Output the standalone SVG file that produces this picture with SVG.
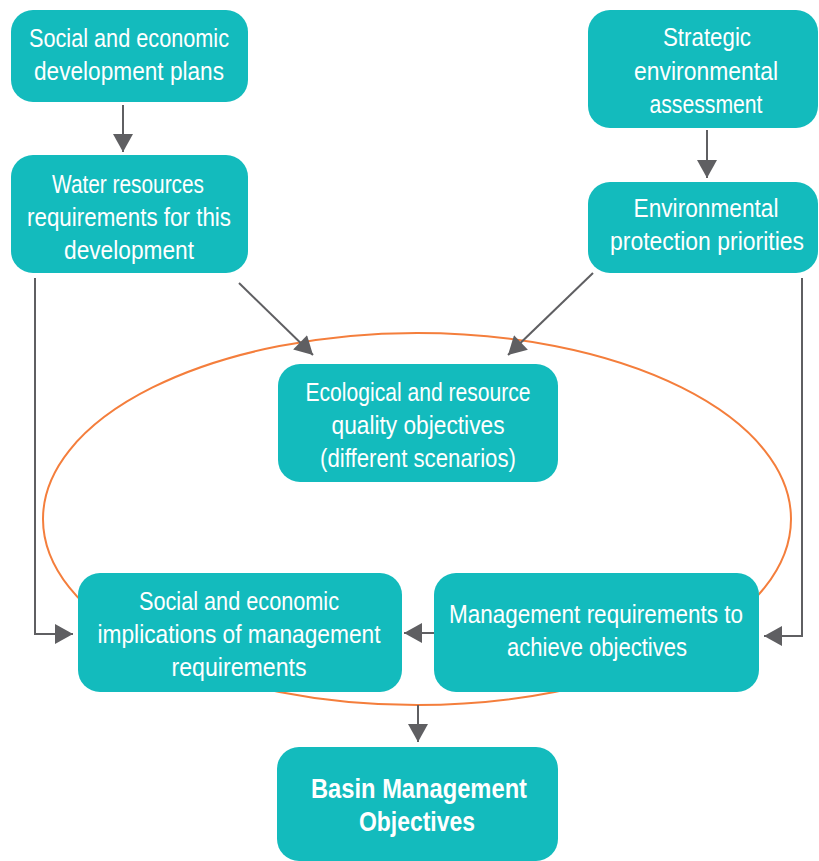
<svg xmlns="http://www.w3.org/2000/svg" width="819" height="861" viewBox="0 0 819 861">
<defs>
<style>
.box{fill:#13BBBD;}
.t{font-family:"Liberation Sans","Arial",sans-serif;font-size:26px;fill:#ffffff;text-anchor:middle;}
.b{font-weight:bold;font-size:28px;}
.c{fill:none;stroke:#5F5F62;stroke-width:2;}
</style>
<marker id="ah" markerUnits="userSpaceOnUse" markerWidth="20" markerHeight="20" viewBox="0 0 18 20" refX="18" refY="10" orient="auto">
<path d="M0,0 L18,10 L0,20 Z" fill="#5F5F62"/>
</marker>
</defs>
<rect width="819" height="861" fill="#ffffff"/>
<ellipse cx="417" cy="519" rx="374" ry="186" fill="none" stroke="#F47E3C" stroke-width="2"/>
<g id="connectors">
<path class="c" d="M123,105 L123,152" marker-end="url(#ah)"/>
<path class="c" d="M707,130 L707,178" marker-end="url(#ah)"/>
<path class="c" d="M239,283 L313,355" marker-end="url(#ah)"/>
<path class="c" d="M593,273 L508,355" marker-end="url(#ah)"/>
<path class="c" d="M35,278 L35,634 L73,634" marker-end="url(#ah)"/>
<path class="c" d="M802,278 L802,636 L764,636" marker-end="url(#ah)"/>
<path class="c" d="M434,633 L404,633" marker-end="url(#ah)"/>
<path class="c" d="M418,705 L418,742" marker-end="url(#ah)"/>
</g>
<g id="n1"><rect class="box" x="11" y="10" width="237" height="92" rx="22"/>
<text class="t" x="129" y="47" textLength="200" lengthAdjust="spacingAndGlyphs">Social and economic</text>
<text class="t" x="129" y="80" textLength="190" lengthAdjust="spacingAndGlyphs">development plans</text></g>
<g id="n2"><rect class="box" x="11" y="155" width="237" height="118" rx="22"/>
<text class="t" x="128" y="193" textLength="152" lengthAdjust="spacingAndGlyphs">Water resources</text>
<text class="t" x="129" y="226" textLength="204" lengthAdjust="spacingAndGlyphs">requirements for this</text>
<text class="t" x="129" y="259" textLength="130" lengthAdjust="spacingAndGlyphs">development</text></g>
<g id="n3"><rect class="box" x="588" y="10" width="230" height="118" rx="22"/>
<text class="t" x="707" y="46" textLength="88" lengthAdjust="spacingAndGlyphs">Strategic</text>
<text class="t" x="706" y="80" textLength="144" lengthAdjust="spacingAndGlyphs">environmental</text>
<text class="t" x="706" y="113" textLength="113" lengthAdjust="spacingAndGlyphs">assessment</text></g>
<g id="n4"><rect class="box" x="588" y="182" width="230" height="91" rx="22"/>
<text class="t" x="706" y="217" textLength="145" lengthAdjust="spacingAndGlyphs">Environmental</text>
<text class="t" x="707" y="250" textLength="194" lengthAdjust="spacingAndGlyphs">protection priorities</text></g>
<g id="n5"><rect class="box" x="278" y="364" width="280" height="118" rx="22"/>
<text class="t" x="418" y="401" textLength="225" lengthAdjust="spacingAndGlyphs">Ecological and resource</text>
<text class="t" x="418" y="434" textLength="173" lengthAdjust="spacingAndGlyphs">quality objectives</text>
<text class="t" x="418" y="467" textLength="196" lengthAdjust="spacingAndGlyphs">(different scenarios)</text></g>
<g id="n6"><rect class="box" x="78" y="573" width="324" height="119" rx="22"/>
<text class="t" x="239" y="610" textLength="200" lengthAdjust="spacingAndGlyphs">Social and economic</text>
<text class="t" x="239" y="643" textLength="283" lengthAdjust="spacingAndGlyphs">implications of management</text>
<text class="t" x="239" y="676" textLength="135" lengthAdjust="spacingAndGlyphs">requirements</text></g>
<g id="n7"><rect class="box" x="434" y="573" width="325" height="119" rx="22"/>
<text class="t" x="596" y="623" textLength="294" lengthAdjust="spacingAndGlyphs">Management requirements to</text>
<text class="t" x="597" y="656" textLength="180" lengthAdjust="spacingAndGlyphs">achieve objectives</text></g>
<g id="n8"><rect class="box" x="277" y="747" width="281" height="114" rx="22"/>
<text class="t b" x="419" y="798" textLength="216" lengthAdjust="spacingAndGlyphs">Basin Management</text>
<text class="t b" x="417" y="831" textLength="116" lengthAdjust="spacingAndGlyphs">Objectives</text></g>
</svg>
